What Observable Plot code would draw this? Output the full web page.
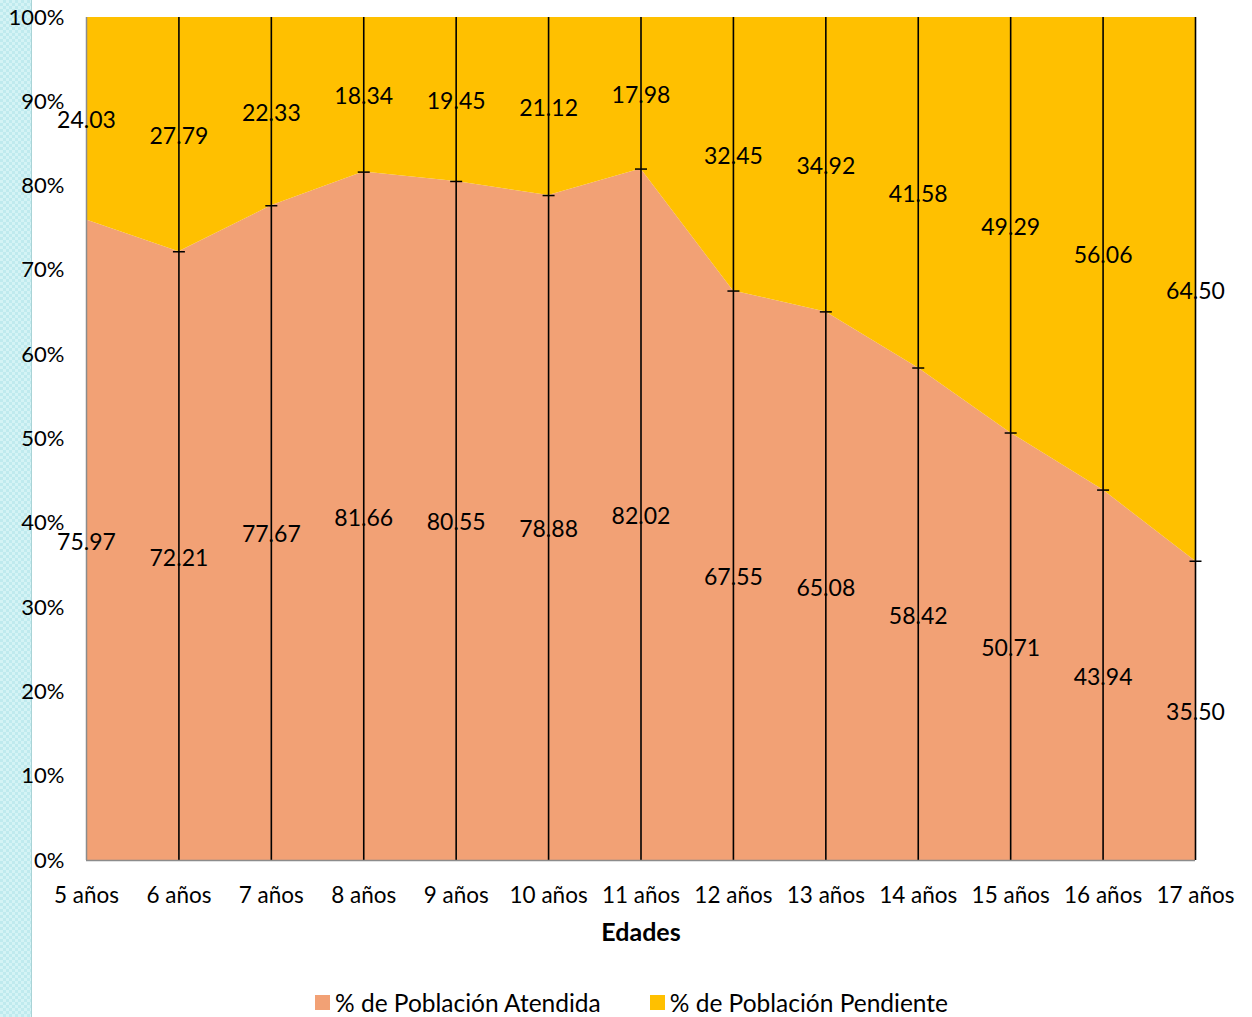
<!DOCTYPE html>
<html>
<head>
<meta charset="utf-8">
<script src="https://cdn.jsdelivr.net/npm/d3@7"></script>
<script src="https://cdn.jsdelivr.net/npm/@observablehq/plot@0.6"></script>
<style>
  html, body { margin: 0; padding: 0; background: #fff; }
  body { width: 1252px; height: 1017px; position: relative; overflow: hidden; font-family: Lato, "Open Sans", sans-serif; }
  #stripe { position: absolute; left: 0; top: 0; width: 31px; height: 1017px;
    background: repeating-conic-gradient(#bfeaee 0 25%, #d4f3f5 0 50%) 0 0 / 6px 6px;
    border-right: 1px solid #a9d3d6; }
  #chart { position: absolute; left: 0; top: 0; }
  #legend { position: absolute; left: 315px; top: 988px; display: flex; align-items: center; font-size: 24.5px; color: #000; }
  .item { display: flex; align-items: center; margin-right: 49px; }
  .sw { width: 15px; height: 15px; margin-right: 5px; }
</style>
</head>
<body>
<div id="stripe"></div>
<div id="chart"></div>
<div id="legend"></div>
<script>
const ages = ["5 años","6 años","7 años","8 años","9 años","10 años","11 años","12 años","13 años","14 años","15 años","16 años","17 años"];
const atendida = [75.97,72.21,77.67,81.66,80.55,78.88,82.02,67.55,65.08,58.42,50.71,43.94,35.50];
const pendiente = [24.03,27.79,22.33,18.34,19.45,21.12,17.98,32.45,34.92,41.58,49.29,56.06,64.50];
const seriesNames = ["% de Población Atendida", "% de Población Pendiente"];
const seriesColors = ["#F2A175", "#FFC000"];
const yTicks = [0,10,20,30,40,50,60,70,80,90,100];

const rows = [];
ages.forEach((a, i) => rows.push({age: a, series: seriesNames[0], value: atendida[i]}));
ages.forEach((a, i) => rows.push({age: a, series: seriesNames[1], value: pendiente[i]}));
const bottomRows = rows.filter(d => d.series === seriesNames[0]);

const hTick = { draw(ctx) { ctx.moveTo(-6, 0); ctx.lineTo(6, 0); } };

const chart = Plot.plot({
  width: 1252,
  height: 960,
  marginLeft: 86,
  marginRight: 57,
  marginTop: 17,
  marginBottom: 100,
  style: { fontFamily: "Lato, 'Open Sans', sans-serif", fontSize: "22px", color: "#000", background: "transparent" },
  x: { type: "point", domain: ages, padding: 0, round: false, label: null },
  y: { domain: [0, 100], label: null },
  color: { domain: seriesNames, range: seriesColors },
  marks: [
    Plot.areaY(rows, { x: "age", y: "value", fill: "series", order: seriesNames }),
    Plot.ruleX(ages.slice(1), { y1: 0, y2: 100, stroke: "#000", strokeWidth: 1.6 }),
    Plot.ruleX(ages.slice(0, 1), { y1: 0, y2: 100, stroke: "#8c8c8c", strokeWidth: 1.5 }),
    Plot.ruleY([0], { stroke: "#8c8c8c", strokeWidth: 1.5 }),
    Plot.dot(bottomRows.slice(1), { x: "age", y: "value", symbol: hTick, stroke: "#000", strokeWidth: 1.5, fill: "none" }),
    Plot.text(rows, Plot.stackY({ x: "age", y: "value", z: "series", order: seriesNames, text: d => d.value.toFixed(2), fill: "#000", fontSize: 23, dy: 2 })),
    Plot.axisY({ ticks: yTicks, tickFormat: d => d + "%", tickSize: 0, tickPadding: 22, fontSize: 22, label: null }),
    Plot.axisX({ tickSize: 0, tickPadding: 27, fontSize: 22.5, label: null }),
    Plot.text(["Edades"], { frameAnchor: "bottom", dy: 80, fontWeight: "bold", fontSize: 25, fill: "#000" })
  ]
});
document.getElementById("chart").appendChild(chart);

const legend = document.getElementById("legend");
seriesNames.forEach((n, i) => {
  const it = document.createElement("div");
  it.className = "item";
  const sw = document.createElement("div");
  sw.className = "sw";
  sw.style.background = seriesColors[i];
  const t = document.createElement("span");
  t.textContent = n;
  it.appendChild(sw); it.appendChild(t);
  legend.appendChild(it);
});
</script>
</body>
</html>
